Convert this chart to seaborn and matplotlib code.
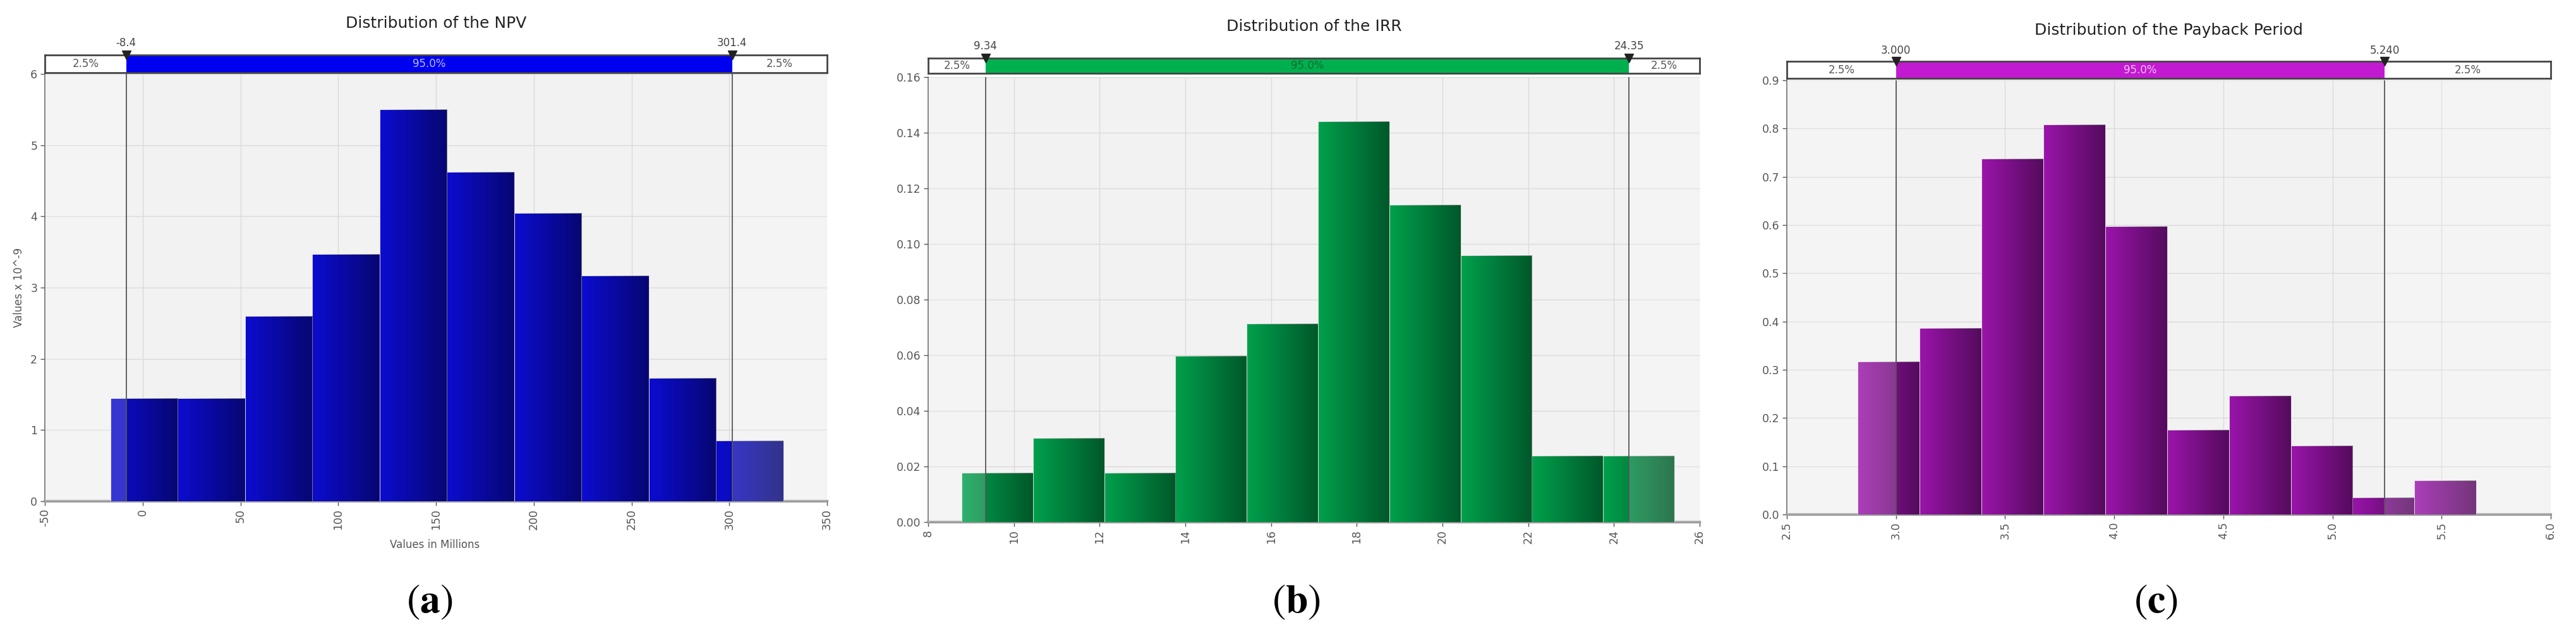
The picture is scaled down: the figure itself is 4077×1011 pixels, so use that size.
import numpy as np
import pandas as pd
import matplotlib.pyplot as plt
import seaborn as sns
from matplotlib import font_manager as fm
from matplotlib.ticker import MultipleLocator, FormatStrFormatter

# Valores (densidade de cada classe do histograma)
npv_bins = (-16.4, 327.6)
npv_density = [1.45, 1.45, 2.60, 3.47, 5.50, 4.62, 4.05, 3.17, 1.73, 0.85]
npv_pct = (-8.4, 301.4)
npv_pct_labels = ("-8.4", "301.4")

irr_bins = (8.78, 25.41)
irr_density = [0.0178, 0.0302, 0.0178, 0.0597, 0.0714, 0.1441, 0.1140, 0.0960, 0.0239, 0.0239]
irr_pct = (9.34, 24.35)
irr_pct_labels = ("9.34", "24.35")

pb_bins = (2.825, 5.659)
pb_density = [0.317, 0.387, 0.737, 0.808, 0.598, 0.176, 0.246, 0.143, 0.036, 0.071]
pb_pct = (3.000, 5.240)
pb_pct_labels = ("3.000", "5.240")

titles = ["Distribution of the NPV", "Distribution of the IRR", "Distribution of the Payback Period"]
panel_tags = ["a", "b", "c"]

W, H = 4077, 1011
sns.set_theme(style="white")
names = {f.name for f in fm.fontManager.ttflist}
narrow = "Liberation Sans Narrow" if "Liberation Sans Narrow" in names else "DejaVu Sans"
plt.rcParams["font.family"] = [narrow, "DejaVu Sans"]
plt.rcParams["mathtext.fontset"] = "stix"

fig = plt.figure(figsize=(W / 100, H / 100), dpi=100)
fig.patch.set_facecolor("white")


def rect(x0, x1, y0, y1):
    # pixel box -> figure fraction
    return [x0 / W, 1 - y1 / H, (x1 - x0) / W, (y1 - y0) / H]


panels = [
    dict(bins=npv_bins, dens=npv_density, pct=npv_pct, pct_labels=npv_pct_labels,
         xlim=(-50, 350), xstep=50, xfmt="%d", ylim=(0, 6), ystep=1, yfmt="%d",
         box=(71, 1309, 117, 793), band=(87, 115), title_y=37, lab_y=68,
         bar="#0c0cd0", band_color="#0000f0", mid_text="#b8bcff", tag_x=680),
    dict(bins=irr_bins, dens=irr_density, pct=irr_pct, pct_labels=irr_pct_labels,
         xlim=(8, 26), xstep=2, xfmt="%d", ylim=(0, 0.16), ystep=0.02, yfmt="%.2f",
         box=(1469, 2690, 122, 826), band=(92, 116), title_y=42, lab_y=73,
         bar="#00a04c", band_color="#00b04f", mid_text="#0a6a30", tag_x=2052),
    dict(bins=pb_bins, dens=pb_density, pct=pb_pct, pct_labels=pb_pct_labels,
         xlim=(2.5, 6.0), xstep=0.5, xfmt="%.1f", ylim=(0, 0.9), ystep=0.1, yfmt="%.1f",
         box=(2828, 4037, 127, 814), band=(97, 124), title_y=48, lab_y=80,
         bar="#9a14aa", band_color="#c21ad0", mid_text="#f0c0f4", tag_x=3412),
]

for p, title, tag in zip(panels, titles, panel_tags):
    x0, x1, y0, y1 = p["box"]
    ax = fig.add_axes(rect(x0, x1, y0, y1))
    ax.set_facecolor("#f2f2f2")

    n = len(p["dens"])
    edges = np.linspace(p["bins"][0], p["bins"][1], n + 1)
    df = pd.DataFrame({"x": (edges[:-1] + edges[1:]) / 2, "w": p["dens"]})
    sns.histplot(data=df, x="x", weights="w", bins=n, binrange=p["bins"], ax=ax,
                 color=p["bar"], alpha=1, edgecolor="#e8e8e8", linewidth=0.6, zorder=3)

    # sombreamento horizontal de cada barra (claro -> escuro)
    grad = np.zeros((1, 64, 4))
    grad[..., 3] = np.linspace(0.0, 0.45, 64)
    for bar in list(ax.patches):
        bx, by = bar.get_x(), bar.get_y()
        im = ax.imshow(grad, extent=(bx, bx + bar.get_width(), by, by + bar.get_height()),
                       aspect="auto", zorder=4)
        im.set_clip_path(bar)

    lo, hi = p["pct"]
    # clarear as caudas fora do intervalo de 95%
    ax.axvspan(p["xlim"][0], lo, color="white", alpha=0.18, zorder=5, lw=0)
    ax.axvspan(hi, p["xlim"][1], color="white", alpha=0.18, zorder=5, lw=0)
    for v in (lo, hi):
        ax.axvline(v, color="#555555", lw=1.3, zorder=6)

    ax.set_xlim(*p["xlim"])
    ax.set_ylim(*p["ylim"])
    ax.xaxis.set_major_locator(MultipleLocator(p["xstep"]))
    ax.yaxis.set_major_locator(MultipleLocator(p["ystep"]))
    ax.xaxis.set_major_formatter(FormatStrFormatter(p["xfmt"]))
    ax.yaxis.set_major_formatter(FormatStrFormatter(p["yfmt"]))
    ax.grid(True, color="#dadada", lw=1.0, zorder=0)
    ax.set_axisbelow(True)
    ax.tick_params(axis="x", labelrotation=90, labelsize=12.5, colors="#555555",
                   direction="out", length=5, width=1, bottom=True)
    ax.tick_params(axis="y", labelsize=12.5, colors="#555555",
                   direction="out", length=5, width=1, left=True)
    for s in ("top", "right"):
        ax.spines[s].set_visible(False)
    ax.spines["left"].set_color("#666666")
    ax.spines["left"].set_linewidth(1.2)
    ax.spines["bottom"].set_color("#9a9a9a")
    ax.spines["bottom"].set_linewidth(3)
    ax.set_xlabel("")
    ax.set_ylabel("")

    # barra de percentis acima do gráfico
    b0, b1 = p["band"]
    bax = fig.add_axes(rect(x0, x1, b0, b1))
    bax.set_xlim(*p["xlim"])
    bax.set_ylim(0, 1)
    bax.set_facecolor("white")
    bax.axvspan(lo, hi, color=p["band_color"], lw=0)
    bax.set_xticks([])
    bax.set_yticks([])
    for s in bax.spines.values():
        s.set_color("#444444")
        s.set_linewidth(2)
    bax.text((p["xlim"][0] + lo) / 2, 0.5, "2.5%", ha="center", va="center",
             fontsize=12, color="#555555")
    bax.text((hi + p["xlim"][1]) / 2, 0.5, "2.5%", ha="center", va="center",
             fontsize=12, color="#555555")
    bax.text((lo + hi) / 2, 0.5, "95.0%", ha="center", va="center",
             fontsize=12, color=p["mid_text"])
    bax.plot([lo, hi], [1, 1], ls="none", marker="v", ms=10, color="#222222",
             clip_on=False, zorder=5)

    for v, lab in zip(p["pct"], p["pct_labels"]):
        fig.text(x0 / W + (v - p["xlim"][0]) / (p["xlim"][1] - p["xlim"][0]) * (x1 - x0) / W,
                 1 - p["lab_y"] / H, lab, ha="center", va="center",
                 fontsize=12, color="#444444")

    fig.text((x0 + x1) / 2 / W, 1 - p["title_y"] / H, title, ha="center", va="center",
             fontsize=18, color="#222222")
    fig.text(p["tag_x"] / W, 1 - 952 / H, r"$(\mathbf{%s})$" % tag, ha="center",
             va="center", fontsize=46, color="black")

fig.text(688 / W, 1 - 862 / H, "Values in Millions", ha="center", va="center",
         fontsize=12, color="#555555")
fig.text(30 / W, 1 - 455 / H, "Values x 10^-9", ha="center", va="center",
         rotation=90, fontsize=12, color="#555555")

fig.savefig("out.png", dpi=100, facecolor="white")
